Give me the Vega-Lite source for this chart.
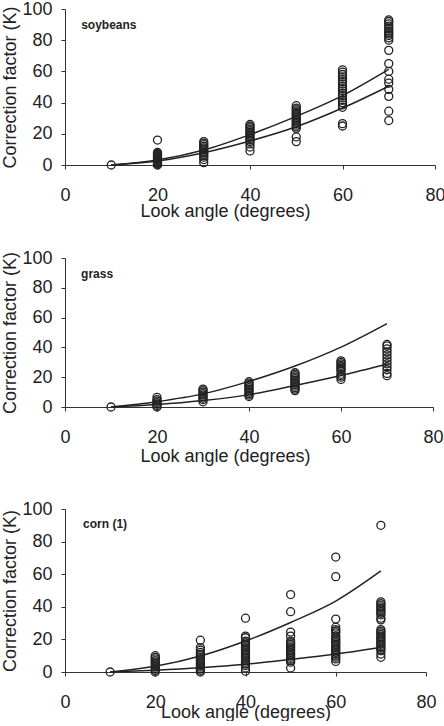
{
  "$schema": "https://vega.github.io/schema/vega-lite/v6.json",
  "padding": {"left": 1, "top": 0, "right": 0, "bottom": 0},
  "background": "white",
  "config": {
    "view": {"stroke": null},
    "font": "Liberation Sans",
    "axis": {
      "grid": false,
      "domainColor": "#333",
      "domainWidth": 1,
      "tickColor": "#333",
      "tickSize": 4,
      "labelFont": "Liberation Sans",
      "labelFontSize": 18,
      "labelColor": "#222",
      "labelOverlap": false,
      "labelFlush": false,
      "titleFont": "Liberation Sans",
      "titleFontSize": 18,
      "titleFontWeight": "normal",
      "titleColor": "#222"
    },
    "axisX": {"labelPadding": 17},
    "axisY": {"labelPadding": 9, "titlePadding": 2}
  },
  "datasets": {
    "points": [
      {"crop": "soybeans", "angle": 10, "k": 0},
      {"crop": "soybeans", "angle": 20, "k": 0}, {"crop": "soybeans", "angle": 20, "k": 0.5}, {"crop": "soybeans", "angle": 20, "k": 1}, {"crop": "soybeans", "angle": 20, "k": 1.5}, {"crop": "soybeans", "angle": 20, "k": 2}, {"crop": "soybeans", "angle": 20, "k": 2.5}, {"crop": "soybeans", "angle": 20, "k": 3}, {"crop": "soybeans", "angle": 20, "k": 3.5}, {"crop": "soybeans", "angle": 20, "k": 4}, {"crop": "soybeans", "angle": 20, "k": 4.5}, {"crop": "soybeans", "angle": 20, "k": 5}, {"crop": "soybeans", "angle": 20, "k": 5.5}, {"crop": "soybeans", "angle": 20, "k": 6}, {"crop": "soybeans", "angle": 20, "k": 6.5}, {"crop": "soybeans", "angle": 20, "k": 7}, {"crop": "soybeans", "angle": 20, "k": 7.5}, {"crop": "soybeans", "angle": 20, "k": 8}, {"crop": "soybeans", "angle": 20, "k": 16},
      {"crop": "soybeans", "angle": 30, "k": 1.5}, {"crop": "soybeans", "angle": 30, "k": 3.5}, {"crop": "soybeans", "angle": 30, "k": 5}, {"crop": "soybeans", "angle": 30, "k": 6}, {"crop": "soybeans", "angle": 30, "k": 7}, {"crop": "soybeans", "angle": 30, "k": 8}, {"crop": "soybeans", "angle": 30, "k": 9}, {"crop": "soybeans", "angle": 30, "k": 10}, {"crop": "soybeans", "angle": 30, "k": 11}, {"crop": "soybeans", "angle": 30, "k": 12}, {"crop": "soybeans", "angle": 30, "k": 13}, {"crop": "soybeans", "angle": 30, "k": 14}, {"crop": "soybeans", "angle": 30, "k": 15},
      {"crop": "soybeans", "angle": 40, "k": 9}, {"crop": "soybeans", "angle": 40, "k": 11.5}, {"crop": "soybeans", "angle": 40, "k": 13.5}, {"crop": "soybeans", "angle": 40, "k": 15}, {"crop": "soybeans", "angle": 40, "k": 16}, {"crop": "soybeans", "angle": 40, "k": 17}, {"crop": "soybeans", "angle": 40, "k": 18}, {"crop": "soybeans", "angle": 40, "k": 19}, {"crop": "soybeans", "angle": 40, "k": 20}, {"crop": "soybeans", "angle": 40, "k": 21}, {"crop": "soybeans", "angle": 40, "k": 22}, {"crop": "soybeans", "angle": 40, "k": 23}, {"crop": "soybeans", "angle": 40, "k": 24}, {"crop": "soybeans", "angle": 40, "k": 25}, {"crop": "soybeans", "angle": 40, "k": 26},
      {"crop": "soybeans", "angle": 50, "k": 15}, {"crop": "soybeans", "angle": 50, "k": 18}, {"crop": "soybeans", "angle": 50, "k": 23.5}, {"crop": "soybeans", "angle": 50, "k": 24.5}, {"crop": "soybeans", "angle": 50, "k": 25.5}, {"crop": "soybeans", "angle": 50, "k": 26.5}, {"crop": "soybeans", "angle": 50, "k": 27.5}, {"crop": "soybeans", "angle": 50, "k": 28.5}, {"crop": "soybeans", "angle": 50, "k": 29.5}, {"crop": "soybeans", "angle": 50, "k": 30.5}, {"crop": "soybeans", "angle": 50, "k": 31.5}, {"crop": "soybeans", "angle": 50, "k": 32.5}, {"crop": "soybeans", "angle": 50, "k": 33.5}, {"crop": "soybeans", "angle": 50, "k": 34.5}, {"crop": "soybeans", "angle": 50, "k": 35.5}, {"crop": "soybeans", "angle": 50, "k": 36.5}, {"crop": "soybeans", "angle": 50, "k": 38},
      {"crop": "soybeans", "angle": 60, "k": 25}, {"crop": "soybeans", "angle": 60, "k": 26.5}, {"crop": "soybeans", "angle": 60, "k": 37}, {"crop": "soybeans", "angle": 60, "k": 38.5}, {"crop": "soybeans", "angle": 60, "k": 40}, {"crop": "soybeans", "angle": 60, "k": 41.5}, {"crop": "soybeans", "angle": 60, "k": 43}, {"crop": "soybeans", "angle": 60, "k": 44.5}, {"crop": "soybeans", "angle": 60, "k": 46}, {"crop": "soybeans", "angle": 60, "k": 47.5}, {"crop": "soybeans", "angle": 60, "k": 49}, {"crop": "soybeans", "angle": 60, "k": 50.5}, {"crop": "soybeans", "angle": 60, "k": 52}, {"crop": "soybeans", "angle": 60, "k": 53.5}, {"crop": "soybeans", "angle": 60, "k": 55}, {"crop": "soybeans", "angle": 60, "k": 56.5}, {"crop": "soybeans", "angle": 60, "k": 58}, {"crop": "soybeans", "angle": 60, "k": 59.5}, {"crop": "soybeans", "angle": 60, "k": 61},
      {"crop": "soybeans", "angle": 70, "k": 28.5}, {"crop": "soybeans", "angle": 70, "k": 34.5}, {"crop": "soybeans", "angle": 70, "k": 44}, {"crop": "soybeans", "angle": 70, "k": 48.5}, {"crop": "soybeans", "angle": 70, "k": 52.5}, {"crop": "soybeans", "angle": 70, "k": 55}, {"crop": "soybeans", "angle": 70, "k": 60}, {"crop": "soybeans", "angle": 70, "k": 65}, {"crop": "soybeans", "angle": 70, "k": 73.5}, {"crop": "soybeans", "angle": 70, "k": 80}, {"crop": "soybeans", "angle": 70, "k": 81.5}, {"crop": "soybeans", "angle": 70, "k": 83}, {"crop": "soybeans", "angle": 70, "k": 84}, {"crop": "soybeans", "angle": 70, "k": 85}, {"crop": "soybeans", "angle": 70, "k": 86}, {"crop": "soybeans", "angle": 70, "k": 87.5}, {"crop": "soybeans", "angle": 70, "k": 89}, {"crop": "soybeans", "angle": 70, "k": 90.5}, {"crop": "soybeans", "angle": 70, "k": 92}, {"crop": "soybeans", "angle": 70, "k": 93},

      {"crop": "grass", "angle": 10, "k": 0},
      {"crop": "grass", "angle": 20, "k": 0}, {"crop": "grass", "angle": 20, "k": 1}, {"crop": "grass", "angle": 20, "k": 2}, {"crop": "grass", "angle": 20, "k": 3}, {"crop": "grass", "angle": 20, "k": 4}, {"crop": "grass", "angle": 20, "k": 5}, {"crop": "grass", "angle": 20, "k": 6.5},
      {"crop": "grass", "angle": 30, "k": 3.5}, {"crop": "grass", "angle": 30, "k": 5}, {"crop": "grass", "angle": 30, "k": 6}, {"crop": "grass", "angle": 30, "k": 7}, {"crop": "grass", "angle": 30, "k": 8}, {"crop": "grass", "angle": 30, "k": 9}, {"crop": "grass", "angle": 30, "k": 10}, {"crop": "grass", "angle": 30, "k": 11}, {"crop": "grass", "angle": 30, "k": 12},
      {"crop": "grass", "angle": 40, "k": 7}, {"crop": "grass", "angle": 40, "k": 8}, {"crop": "grass", "angle": 40, "k": 9}, {"crop": "grass", "angle": 40, "k": 10}, {"crop": "grass", "angle": 40, "k": 11}, {"crop": "grass", "angle": 40, "k": 12}, {"crop": "grass", "angle": 40, "k": 13}, {"crop": "grass", "angle": 40, "k": 14}, {"crop": "grass", "angle": 40, "k": 15}, {"crop": "grass", "angle": 40, "k": 16}, {"crop": "grass", "angle": 40, "k": 17},
      {"crop": "grass", "angle": 50, "k": 11}, {"crop": "grass", "angle": 50, "k": 12}, {"crop": "grass", "angle": 50, "k": 13}, {"crop": "grass", "angle": 50, "k": 14}, {"crop": "grass", "angle": 50, "k": 15}, {"crop": "grass", "angle": 50, "k": 16}, {"crop": "grass", "angle": 50, "k": 17}, {"crop": "grass", "angle": 50, "k": 18}, {"crop": "grass", "angle": 50, "k": 19}, {"crop": "grass", "angle": 50, "k": 20}, {"crop": "grass", "angle": 50, "k": 21}, {"crop": "grass", "angle": 50, "k": 22}, {"crop": "grass", "angle": 50, "k": 23},
      {"crop": "grass", "angle": 60, "k": 18.5}, {"crop": "grass", "angle": 60, "k": 20}, {"crop": "grass", "angle": 60, "k": 21}, {"crop": "grass", "angle": 60, "k": 22}, {"crop": "grass", "angle": 60, "k": 24}, {"crop": "grass", "angle": 60, "k": 25}, {"crop": "grass", "angle": 60, "k": 26}, {"crop": "grass", "angle": 60, "k": 27}, {"crop": "grass", "angle": 60, "k": 28}, {"crop": "grass", "angle": 60, "k": 29}, {"crop": "grass", "angle": 60, "k": 30}, {"crop": "grass", "angle": 60, "k": 31},
      {"crop": "grass", "angle": 70, "k": 21}, {"crop": "grass", "angle": 70, "k": 22.5}, {"crop": "grass", "angle": 70, "k": 25}, {"crop": "grass", "angle": 70, "k": 27}, {"crop": "grass", "angle": 70, "k": 29}, {"crop": "grass", "angle": 70, "k": 31}, {"crop": "grass", "angle": 70, "k": 33}, {"crop": "grass", "angle": 70, "k": 35}, {"crop": "grass", "angle": 70, "k": 37}, {"crop": "grass", "angle": 70, "k": 39}, {"crop": "grass", "angle": 70, "k": 41}, {"crop": "grass", "angle": 70, "k": 42},

      {"crop": "corn (1)", "angle": 10, "k": 0},
      {"crop": "corn (1)", "angle": 20, "k": 0}, {"crop": "corn (1)", "angle": 20, "k": 1}, {"crop": "corn (1)", "angle": 20, "k": 2}, {"crop": "corn (1)", "angle": 20, "k": 3}, {"crop": "corn (1)", "angle": 20, "k": 4}, {"crop": "corn (1)", "angle": 20, "k": 5}, {"crop": "corn (1)", "angle": 20, "k": 6}, {"crop": "corn (1)", "angle": 20, "k": 7}, {"crop": "corn (1)", "angle": 20, "k": 8}, {"crop": "corn (1)", "angle": 20, "k": 9}, {"crop": "corn (1)", "angle": 20, "k": 10},
      {"crop": "corn (1)", "angle": 30, "k": 0}, {"crop": "corn (1)", "angle": 30, "k": 1}, {"crop": "corn (1)", "angle": 30, "k": 2}, {"crop": "corn (1)", "angle": 30, "k": 3}, {"crop": "corn (1)", "angle": 30, "k": 4}, {"crop": "corn (1)", "angle": 30, "k": 5}, {"crop": "corn (1)", "angle": 30, "k": 6}, {"crop": "corn (1)", "angle": 30, "k": 7}, {"crop": "corn (1)", "angle": 30, "k": 8}, {"crop": "corn (1)", "angle": 30, "k": 9}, {"crop": "corn (1)", "angle": 30, "k": 10}, {"crop": "corn (1)", "angle": 30, "k": 11}, {"crop": "corn (1)", "angle": 30, "k": 12}, {"crop": "corn (1)", "angle": 30, "k": 13.5}, {"crop": "corn (1)", "angle": 30, "k": 15}, {"crop": "corn (1)", "angle": 30, "k": 19.5},
      {"crop": "corn (1)", "angle": 40, "k": 0.5}, {"crop": "corn (1)", "angle": 40, "k": 2.5}, {"crop": "corn (1)", "angle": 40, "k": 4}, {"crop": "corn (1)", "angle": 40, "k": 5}, {"crop": "corn (1)", "angle": 40, "k": 6}, {"crop": "corn (1)", "angle": 40, "k": 7}, {"crop": "corn (1)", "angle": 40, "k": 8}, {"crop": "corn (1)", "angle": 40, "k": 9}, {"crop": "corn (1)", "angle": 40, "k": 10}, {"crop": "corn (1)", "angle": 40, "k": 11}, {"crop": "corn (1)", "angle": 40, "k": 12}, {"crop": "corn (1)", "angle": 40, "k": 13}, {"crop": "corn (1)", "angle": 40, "k": 14}, {"crop": "corn (1)", "angle": 40, "k": 15}, {"crop": "corn (1)", "angle": 40, "k": 16}, {"crop": "corn (1)", "angle": 40, "k": 17}, {"crop": "corn (1)", "angle": 40, "k": 18}, {"crop": "corn (1)", "angle": 40, "k": 19}, {"crop": "corn (1)", "angle": 40, "k": 21}, {"crop": "corn (1)", "angle": 40, "k": 22}, {"crop": "corn (1)", "angle": 40, "k": 33},
      {"crop": "corn (1)", "angle": 50, "k": 2.5}, {"crop": "corn (1)", "angle": 50, "k": 6}, {"crop": "corn (1)", "angle": 50, "k": 7}, {"crop": "corn (1)", "angle": 50, "k": 8}, {"crop": "corn (1)", "angle": 50, "k": 9}, {"crop": "corn (1)", "angle": 50, "k": 10}, {"crop": "corn (1)", "angle": 50, "k": 11}, {"crop": "corn (1)", "angle": 50, "k": 12}, {"crop": "corn (1)", "angle": 50, "k": 13}, {"crop": "corn (1)", "angle": 50, "k": 14}, {"crop": "corn (1)", "angle": 50, "k": 15}, {"crop": "corn (1)", "angle": 50, "k": 16}, {"crop": "corn (1)", "angle": 50, "k": 17}, {"crop": "corn (1)", "angle": 50, "k": 18}, {"crop": "corn (1)", "angle": 50, "k": 19}, {"crop": "corn (1)", "angle": 50, "k": 22}, {"crop": "corn (1)", "angle": 50, "k": 24.5}, {"crop": "corn (1)", "angle": 50, "k": 37}, {"crop": "corn (1)", "angle": 50, "k": 47.5},
      {"crop": "corn (1)", "angle": 60, "k": 6.5}, {"crop": "corn (1)", "angle": 60, "k": 8}, {"crop": "corn (1)", "angle": 60, "k": 9}, {"crop": "corn (1)", "angle": 60, "k": 10}, {"crop": "corn (1)", "angle": 60, "k": 11}, {"crop": "corn (1)", "angle": 60, "k": 12}, {"crop": "corn (1)", "angle": 60, "k": 13}, {"crop": "corn (1)", "angle": 60, "k": 14}, {"crop": "corn (1)", "angle": 60, "k": 15}, {"crop": "corn (1)", "angle": 60, "k": 16}, {"crop": "corn (1)", "angle": 60, "k": 17}, {"crop": "corn (1)", "angle": 60, "k": 18}, {"crop": "corn (1)", "angle": 60, "k": 19}, {"crop": "corn (1)", "angle": 60, "k": 20}, {"crop": "corn (1)", "angle": 60, "k": 21}, {"crop": "corn (1)", "angle": 60, "k": 22}, {"crop": "corn (1)", "angle": 60, "k": 24}, {"crop": "corn (1)", "angle": 60, "k": 25}, {"crop": "corn (1)", "angle": 60, "k": 26}, {"crop": "corn (1)", "angle": 60, "k": 27.5}, {"crop": "corn (1)", "angle": 60, "k": 32.5}, {"crop": "corn (1)", "angle": 60, "k": 58.5}, {"crop": "corn (1)", "angle": 60, "k": 70.5},
      {"crop": "corn (1)", "angle": 70, "k": 9}, {"crop": "corn (1)", "angle": 70, "k": 11}, {"crop": "corn (1)", "angle": 70, "k": 13}, {"crop": "corn (1)", "angle": 70, "k": 14}, {"crop": "corn (1)", "angle": 70, "k": 15}, {"crop": "corn (1)", "angle": 70, "k": 16}, {"crop": "corn (1)", "angle": 70, "k": 17}, {"crop": "corn (1)", "angle": 70, "k": 18}, {"crop": "corn (1)", "angle": 70, "k": 19}, {"crop": "corn (1)", "angle": 70, "k": 20}, {"crop": "corn (1)", "angle": 70, "k": 21}, {"crop": "corn (1)", "angle": 70, "k": 22}, {"crop": "corn (1)", "angle": 70, "k": 23}, {"crop": "corn (1)", "angle": 70, "k": 24}, {"crop": "corn (1)", "angle": 70, "k": 25}, {"crop": "corn (1)", "angle": 70, "k": 26}, {"crop": "corn (1)", "angle": 70, "k": 32}, {"crop": "corn (1)", "angle": 70, "k": 33}, {"crop": "corn (1)", "angle": 70, "k": 35}, {"crop": "corn (1)", "angle": 70, "k": 36}, {"crop": "corn (1)", "angle": 70, "k": 37}, {"crop": "corn (1)", "angle": 70, "k": 38}, {"crop": "corn (1)", "angle": 70, "k": 39}, {"crop": "corn (1)", "angle": 70, "k": 40}, {"crop": "corn (1)", "angle": 70, "k": 41}, {"crop": "corn (1)", "angle": 70, "k": 42}, {"crop": "corn (1)", "angle": 70, "k": 43}, {"crop": "corn (1)", "angle": 70, "k": 90}
    ],
    "curves": [
      {"crop": "soybeans", "fit": "a", "angle": 10, "k": 0}, {"crop": "soybeans", "fit": "a", "angle": 20, "k": 3.2}, {"crop": "soybeans", "fit": "a", "angle": 30, "k": 9.6}, {"crop": "soybeans", "fit": "a", "angle": 40, "k": 19.5}, {"crop": "soybeans", "fit": "a", "angle": 50, "k": 31.2}, {"crop": "soybeans", "fit": "a", "angle": 60, "k": 44.5}, {"crop": "soybeans", "fit": "a", "angle": 70, "k": 61.3},
      {"crop": "soybeans", "fit": "b", "angle": 10, "k": 0}, {"crop": "soybeans", "fit": "b", "angle": 20, "k": 2.6}, {"crop": "soybeans", "fit": "b", "angle": 30, "k": 7.9}, {"crop": "soybeans", "fit": "b", "angle": 40, "k": 15.4}, {"crop": "soybeans", "fit": "b", "angle": 50, "k": 24.5}, {"crop": "soybeans", "fit": "b", "angle": 60, "k": 36.5}, {"crop": "soybeans", "fit": "b", "angle": 70, "k": 50.5},
      {"crop": "grass", "fit": "a", "angle": 10, "k": 0}, {"crop": "grass", "fit": "a", "angle": 20, "k": 3.6}, {"crop": "grass", "fit": "a", "angle": 30, "k": 8.8}, {"crop": "grass", "fit": "a", "angle": 40, "k": 17.2}, {"crop": "grass", "fit": "a", "angle": 50, "k": 27.5}, {"crop": "grass", "fit": "a", "angle": 60, "k": 40.2}, {"crop": "grass", "fit": "a", "angle": 70, "k": 56},
      {"crop": "grass", "fit": "b", "angle": 10, "k": 0}, {"crop": "grass", "fit": "b", "angle": 20, "k": 1.6}, {"crop": "grass", "fit": "b", "angle": 30, "k": 4.3}, {"crop": "grass", "fit": "b", "angle": 40, "k": 8.3}, {"crop": "grass", "fit": "b", "angle": 50, "k": 14.5}, {"crop": "grass", "fit": "b", "angle": 60, "k": 21.2}, {"crop": "grass", "fit": "b", "angle": 70, "k": 28.7},
      {"crop": "corn (1)", "fit": "a", "angle": 10, "k": 0}, {"crop": "corn (1)", "fit": "a", "angle": 20, "k": 3.5}, {"crop": "corn (1)", "fit": "a", "angle": 30, "k": 9.8}, {"crop": "corn (1)", "fit": "a", "angle": 40, "k": 19}, {"crop": "corn (1)", "fit": "a", "angle": 50, "k": 30.4}, {"crop": "corn (1)", "fit": "a", "angle": 60, "k": 43.5}, {"crop": "corn (1)", "fit": "a", "angle": 70, "k": 62},
      {"crop": "corn (1)", "fit": "b", "angle": 10, "k": 0}, {"crop": "corn (1)", "fit": "b", "angle": 20, "k": 1.1}, {"crop": "corn (1)", "fit": "b", "angle": 30, "k": 2.6}, {"crop": "corn (1)", "fit": "b", "angle": 40, "k": 4.7}, {"crop": "corn (1)", "fit": "b", "angle": 50, "k": 7.7}, {"crop": "corn (1)", "fit": "b", "angle": 60, "k": 11}, {"crop": "corn (1)", "fit": "b", "angle": 70, "k": 15}
    ],
    "labels": [
      {"crop": "soybeans", "angle": 3.5, "k": 90},
      {"crop": "grass", "angle": 3.5, "k": 89},
      {"crop": "corn (1)", "angle": 4, "k": 91}
    ]
  },
  "vconcat": [
    {
      "vconcat": [
        {
          "width": 370,
          "height": 156,
          "layer": [
            {
              "data": {"name": "points"},
              "transform": [{"filter": "datum.crop === 'soybeans'"}],
              "mark": {"type": "point", "shape": "circle", "size": 64, "filled": false, "stroke": "#222", "strokeWidth": 1.3, "opacity": 1},
              "encoding": {
                "x": {"field": "angle", "type": "quantitative", "scale": {"domain": [0, 80]}, "axis": {"values": [0, 20, 40, 60, 80], "tickCount": 10, "title": "Look angle (degrees)", "titlePadding": -2, "titleX": 160}},
                "y": {"field": "k", "type": "quantitative", "scale": {"domain": [0, 100]}, "axis": {"values": [0, 20, 40, 60, 80, 100], "tickCount": 10, "title": "Correction factor (K)"}}
              }
            },
            {
              "data": {"name": "curves"},
              "transform": [{"filter": "datum.crop === 'soybeans'"}],
              "mark": {"type": "line", "interpolate": "monotone", "stroke": "#222", "strokeWidth": 1.5},
              "encoding": {
                "x": {"field": "angle", "type": "quantitative"},
                "y": {"field": "k", "type": "quantitative"},
                "detail": {"field": "fit"}
              }
            },
            {
              "data": {"name": "labels"},
              "transform": [{"filter": "datum.crop === 'soybeans'"}],
              "mark": {"type": "text", "align": "left", "baseline": "middle", "fontWeight": "bold", "fontSize": 12, "fill": "#222"},
              "encoding": {
                "x": {"field": "angle", "type": "quantitative"},
                "y": {"field": "k", "type": "quantitative"},
                "text": {"field": "crop"}
              }
            }
          ]
        },
        {
          "width": 368,
          "height": 149,
          "layer": [
            {
              "data": {"name": "points"},
              "transform": [{"filter": "datum.crop === 'grass'"}],
              "mark": {"type": "point", "shape": "circle", "size": 64, "filled": false, "stroke": "#222", "strokeWidth": 1.3, "opacity": 1},
              "encoding": {
                "x": {"field": "angle", "type": "quantitative", "scale": {"domain": [0, 80]}, "axis": {"values": [0, 20, 40, 60, 80], "tickCount": 10, "title": "Look angle (degrees)", "titlePadding": 1, "titleX": 160}},
                "y": {"field": "k", "type": "quantitative", "scale": {"domain": [0, 100]}, "axis": {"values": [0, 20, 40, 60, 80, 100], "tickCount": 10, "title": "Correction factor (K)"}}
              }
            },
            {
              "data": {"name": "curves"},
              "transform": [{"filter": "datum.crop === 'grass'"}],
              "mark": {"type": "line", "interpolate": "monotone", "stroke": "#222", "strokeWidth": 1.5},
              "encoding": {
                "x": {"field": "angle", "type": "quantitative"},
                "y": {"field": "k", "type": "quantitative"},
                "detail": {"field": "fit"}
              }
            },
            {
              "data": {"name": "labels"},
              "transform": [{"filter": "datum.crop === 'grass'"}],
              "mark": {"type": "text", "align": "left", "baseline": "middle", "fontWeight": "bold", "fontSize": 12, "fill": "#222"},
              "encoding": {
                "x": {"field": "angle", "type": "quantitative"},
                "y": {"field": "k", "type": "quantitative"},
                "text": {"field": "crop"}
              }
            }
          ]
        }
      ],
      "spacing": 93,
      "bounds": "flush"
    },
    {
      "width": 361,
      "height": 163,
      "layer": [
        {
          "data": {"name": "points"},
          "transform": [{"filter": "datum.crop === 'corn (1)'"}],
          "mark": {"type": "point", "shape": "circle", "size": 64, "filled": false, "stroke": "#222", "strokeWidth": 1.3, "opacity": 1},
          "encoding": {
            "x": {"field": "angle", "type": "quantitative", "scale": {"domain": [0, 80]}, "axis": {"values": [0, 20, 40, 60, 80], "tickCount": 10, "title": "Look angle (degrees)", "titlePadding": -8}},
            "y": {"field": "k", "type": "quantitative", "scale": {"domain": [0, 100]}, "axis": {"values": [0, 20, 40, 60, 80, 100], "tickCount": 10, "title": "Correction factor (K)"}}
          }
        },
        {
          "data": {"name": "curves"},
          "transform": [{"filter": "datum.crop === 'corn (1)'"}],
          "mark": {"type": "line", "interpolate": "monotone", "stroke": "#222", "strokeWidth": 1.5},
          "encoding": {
            "x": {"field": "angle", "type": "quantitative"},
            "y": {"field": "k", "type": "quantitative"},
            "detail": {"field": "fit"}
          }
        },
        {
          "data": {"name": "labels"},
          "transform": [{"filter": "datum.crop === 'corn (1)'"}],
          "mark": {"type": "text", "align": "left", "baseline": "middle", "fontWeight": "bold", "fontSize": 12, "fill": "#222"},
          "encoding": {
            "x": {"field": "angle", "type": "quantitative"},
            "y": {"field": "k", "type": "quantitative"},
            "text": {"field": "crop"}
          }
        }
      ]
    }
  ],
  "spacing": 35
}
